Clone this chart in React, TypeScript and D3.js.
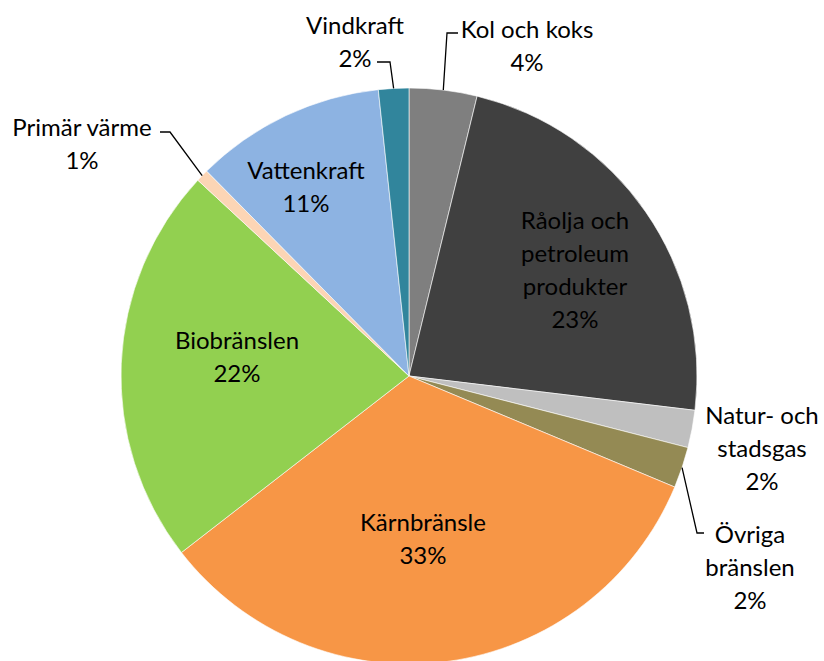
import React from "react";
import * as d3 from "d3";

// energy supply shares, clockwise from 12 o'clock
const categories = [
  "Kol och koks",
  "Råolja och petroleum produkter",
  "Natur- och stadsgas",
  "Övriga bränslen",
  "Kärnbränsle",
  "Biobränslen",
  "Primär värme",
  "Vattenkraft",
  "Vindkraft",
];
const values = [3.8, 23.1, 2.1, 2.3, 33.2, 22.4, 0.7, 10.7, 1.7];
const colors = [
  "#7f7f7f",
  "#404040",
  "#bfbfbf",
  "#948a54",
  "#f79646",
  "#92d050",
  "#fcd5b5",
  "#8db3e2",
  "#31859c",
];
// label text broken into lines (name lines, percent added later)
const labelLines = [
  ["Kol och koks"],
  ["Råolja och", "petroleum", "produkter"],
  ["Natur- och", "stadsgas"],
  ["Övriga", "bränslen"],
  ["Kärnbränsle"],
  ["Biobränslen"],
  ["Primär värme"],
  ["Vattenkraft"],
  ["Vindkraft"],
];

const W = 824;
const H = 661;
const cx = 409;
const cy = 376;
const R = 288;
const lineH = 33;

// label centre (x, y of first line) and optional leader elbow
const labelPos: { x: number; y: number; elbow?: [number, number][] }[] = [
  { x: 527, y: 28, elbow: [[447, 33], [458, 33]] },
  { x: 575, y: 219 },
  { x: 762, y: 414 },
  { x: 750, y: 533, elbow: [[697, 533], [704, 533]] },
  { x: 423, y: 521 },
  { x: 237, y: 339 },
  { x: 82, y: 126, elbow: [[170, 132], [160, 132]] },
  { x: 306, y: 169 },
  { x: 355, y: 24, elbow: [[390, 62], [377, 62]] },
];

export default function App() {
  const pie = d3.pie<number>().sort(null).value((d) => d);
  const arcs = pie(values);
  const arc = d3.arc<d3.PieArcDatum<number>>().innerRadius(0).outerRadius(R);

  return (
    <svg
      width={W}
      height={H}
      style={{ position: "absolute", left: 0, top: 0, background: "#fff" }}
      fontFamily="Lato, 'Open Sans', sans-serif"
      fontSize={24}
    >
      <g transform={`translate(${cx},${cy})`}>
        {arcs.map((a, i) => (
          <path
            key={categories[i]}
            d={arc(a) || ""}
            fill={colors[i]}
            stroke="#fff"
            strokeWidth={0.6}
          />
        ))}
      </g>
      {arcs.map((a, i) => {
        const p = labelPos[i];
        if (!p.elbow) return null;
        const mid = (a.startAngle + a.endAngle) / 2;
        const ex = cx + R * Math.sin(mid);
        const ey = cy - R * Math.cos(mid);
        const pts: [number, number][] = [[ex, ey], ...p.elbow];
        return (
          <polyline
            key={"l" + i}
            points={pts.map((q) => q.join(",")).join(" ")}
            fill="none"
            stroke="#000"
            strokeWidth={1.3}
          />
        );
      })}
      {arcs.map((a, i) => {
        const p = labelPos[i];
        const lines = [...labelLines[i], `${Math.round(values[i])}%`];
        return (
          <text
            key={"t" + i}
            x={p.x}
            textAnchor="middle"
            fill="#000"
            dominantBaseline="central"
          >
            {lines.map((t, j) => (
              <tspan key={j} x={p.x} y={p.y + j * lineH}>
                {t}
              </tspan>
            ))}
          </text>
        );
      })}
    </svg>
  );
}
